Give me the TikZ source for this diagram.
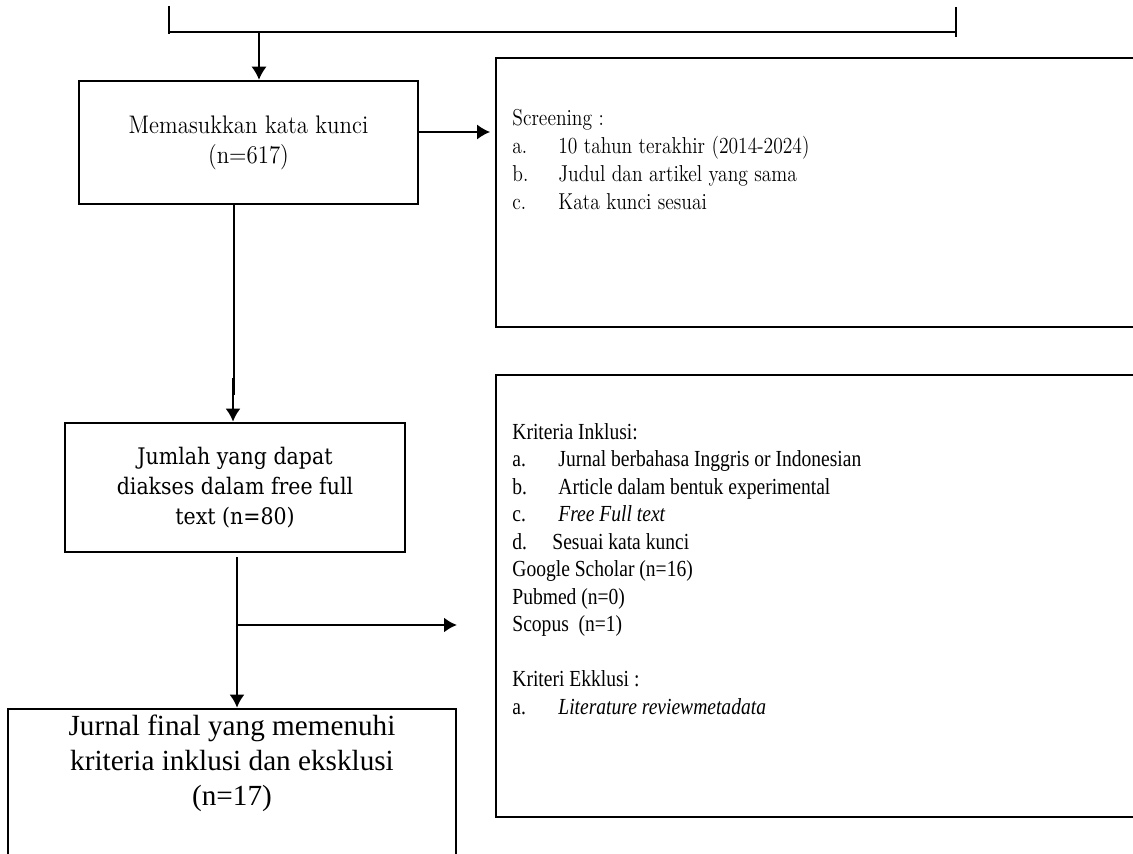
\documentclass[tikz,border=0pt]{standalone}
\usepackage{fontspec}
\setmainfont{Liberation Serif}
\newfontfamily\cambria[FakeStretch=0.9]{Latin Modern Roman}
\newfontfamily\cambriaSempit[FakeStretch=0.85]{Latin Modern Roman}
\newfontfamily\schoolbook[FakeStretch=0.9]{DejaVu Serif}
\newfontfamily\timesSempit[FakeStretch=0.85]{Liberation Serif}
\usetikzlibrary{arrows.meta}

\newcommand{\butir}[1]{\makebox[23pt][l]{#1}}

\tikzset{
    kotak/.style={draw, line width=1.3pt, inner sep=0pt, align=center},
    daftar/.style={anchor=north west, align=left, inner sep=0pt},
    tipis/.style={line width=0.6pt},
    tebal/.style={line width=1.1pt}
}

\begin{document}
\begin{tikzpicture}[x=0.5pt, y=-0.5pt, >={Latex[length=6.5pt,width=7.5pt]}]
    \useasboundingbox (0,0) rectangle (1133,854);

    % 1. Kurung di bagian atas
    \coordinate (kurungKiri) at (169,32);
    \coordinate (kurungKanan) at (956,32);
    \draw[line width=1pt] (169,6) -- (169,34);
    \draw[line width=1pt] (956,7) -- (956,37);
    \draw[line width=1pt] (kurungKiri) -- (kurungKanan);

    % 2. Kotak-kotak alur
    \node[kotak, minimum width=169.5pt, minimum height=61.5pt,
          font=\cambria\fontsize{12.7}{15}\selectfont] (masuk) at (248.5,142.5)
          {Memasukkan kata kunci\\(n=617)};
    \node[kotak, minimum width=170pt, minimum height=64.5pt,
          font=\schoolbook\fontsize{11.4}{15}\selectfont] (akses) at (235,487.5)
          {Jumlah yang dapat\\diakses dalam free full\\text (n=80)};
    \node[kotak, minimum width=224pt, minimum height=80.5pt] (final) at (232,789.5) {};
    \node[font=\fontsize{14.6}{17.5}\selectfont, align=center, inner sep=0pt] (finTeks) at (232,763)
          {Jurnal final yang memenuhi\\kriteria inklusi dan eksklusi\\(n=17)};

    % 3. Kotak keterangan di kanan
    \node[kotak, minimum width=324.5pt, minimum height=134.5pt] (skrining) at (820.5,192.5) {};
    \node[daftar, font=\cambriaSempit\fontsize{11.5}{14}\selectfont] (skrTeks) at (512,109)
          {Screening :\\
           \butir{a.}10 tahun terakhir (2014-2024)\\
           \butir{b.}Judul dan artikel yang sama\\
           \butir{c.}Kata kunci sesuai};
    \node[kotak, minimum width=324.5pt, minimum height=221pt] (kriteria) at (820.5,596) {};
    \node[daftar, font=\timesSempit\fontsize{11.5}{13.75}\selectfont] (kriTeks) at (512,423)
          {Kriteria Inklusi:\\
           \butir{a.}Jurnal berbahasa Inggris or Indonesian\\
           \butir{b.}Article dalam bentuk experimental\\
           \butir{c.}\textit{Free Full text}\\
           \makebox[20pt][l]{d.}Sesuai kata kunci\\
           Google Scholar (n=16)\\
           Pubmed (n=0)\\
           Scopus\ \ (n=1)\\[13.75pt]
           Kriteri Ekklusi :\\
           \butir{a.}\textit{Literature reviewmetadata}};

    % 4. Panah penghubung
    \coordinate (turun) at (259,32);
    \draw[->, tipis] (turun) -- (masuk.north -| turun);

    \coordinate (kanan1) at (418,132);
    \coordinate (panah1) at (490,132);
    \draw[->, tipis] (masuk.east |- kanan1) -- (panah1);

    \coordinate (belok1) at (234,395);
    \coordinate (pangkal1) at (233,378);
    \draw[tipis] (masuk.south -| belok1) -- (belok1);
    \draw[->, tebal] (pangkal1) -- (akses.north -| pangkal1);

    \coordinate (cabang) at (237,625);
    \coordinate (ujung2) at (237,668);
    \coordinate (tengah) at (408,625);
    \coordinate (panah2) at (457,625);
    \coordinate (pangkal3) at (237,645);
    \draw[tipis] ([yshift=-2pt]akses.south -| cabang) -- (ujung2);
    \draw[tipis] (cabang) -- (tengah);
    \draw[->, tebal] (tengah) -- (panah2);
    \draw[->, tebal] (pangkal3) -- (final.north -| pangkal3);
\end{tikzpicture}
\end{document}
